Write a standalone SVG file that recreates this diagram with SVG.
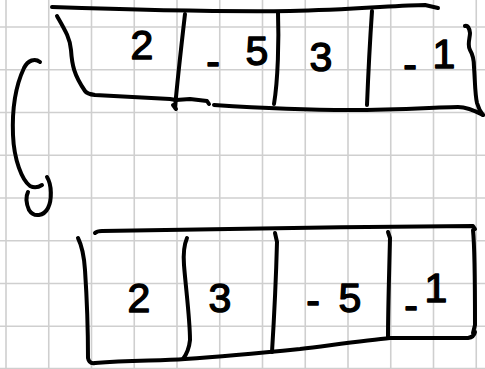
<svg xmlns="http://www.w3.org/2000/svg" width="485" height="369" viewBox="0 0 485 369">
<style>
.grid line{stroke:#cfcfcf;stroke-width:1.6}
.ink{fill:none;stroke:#000;stroke-width:4;stroke-linecap:round;stroke-linejoin:round}
.num{font-family:"Liberation Sans","DejaVu Sans",sans-serif;font-size:41px;fill:#000;stroke:#000;stroke-width:1.4;stroke-linejoin:round;text-anchor:middle}
</style>
<rect width="485" height="369" fill="#fff"/>
<g class="grid">
<line x1="6" y1="0" x2="6" y2="369"/><line x1="48.75" y1="0" x2="48.75" y2="369"/><line x1="91.5" y1="0" x2="91.5" y2="369"/><line x1="134.25" y1="0" x2="134.25" y2="369"/><line x1="177" y1="0" x2="177" y2="369"/><line x1="219.75" y1="0" x2="219.75" y2="369"/><line x1="262.5" y1="0" x2="262.5" y2="369"/><line x1="305.25" y1="0" x2="305.25" y2="369"/><line x1="348" y1="0" x2="348" y2="369"/><line x1="390.75" y1="0" x2="390.75" y2="369"/><line x1="433.5" y1="0" x2="433.5" y2="369"/><line x1="476.25" y1="0" x2="476.25" y2="369"/>
<line x1="0" y1="27" x2="485" y2="27"/><line x1="0" y1="69.75" x2="485" y2="69.75"/><line x1="0" y1="112.5" x2="485" y2="112.5"/><line x1="0" y1="155.25" x2="485" y2="155.25"/><line x1="0" y1="198" x2="485" y2="198"/><line x1="0" y1="240.75" x2="485" y2="240.75"/><line x1="0" y1="283.5" x2="485" y2="283.5"/><line x1="0" y1="326.25" x2="485" y2="326.25"/><line x1="0" y1="368.5" x2="485" y2="368.5"/>
</g>
<g id="array-before">
<path class="ink" d="M52,7 C110,9 200,12 290,11 C350,10 400,5 425,5 L438,8"/>
<path class="ink" d="M57,16 C65,30 70,38 71,50 C72,65 74,75 85,91 Q87,94 95,95 L170,99 L176,100"/>
<path class="ink" d="M185,14 C182,40 177,85 175,108 M173,105 L176,109"/>
<path class="ink" d="M176,100 L190,99 L207,101 L209,104"/>
<path class="ink" d="M214,105 C260,108 300,110 350,110 C400,110 440,107 458,107 Q468,107 483,115"/>
<path class="ink" d="M278,12 C279,40 278,80 274,104"/>
<path class="ink" d="M372,11 C370,40 368,80 367,105"/>
<path class="ink" d="M465,26 Q469,25 470,33 C470,38 467,45 470,50 C473,55 474,60 474,67 C475,80 475,95 477,103 Q479,110 483,115"/>
<text class="num" x="142" y="59">2</text>
<text class="num"><tspan x="213" y="75">-</tspan><tspan x="257" y="65">5</tspan></text>
<text class="num" x="321" y="71">3</text>
<text class="num"><tspan x="410" y="78">-</tspan><tspan x="444" y="68">1</tspan></text>
</g>
<g id="array-after">
<path class="ink" d="M95,233 Q97,231 102,231 C200,229 350,227 473,226 L475,229"/>
<path class="ink" d="M78,238 C82,246 84,255 85,270 C87,300 88,335 88,358 Q89,364 95,363"/>
<path class="ink" d="M95,363 C130,360 160,361 185,359 C230,356 270,352 300,349 C340,344 370,340 390,338 L468,338 Q474,337 475,332"/>
<path class="ink" d="M473,230 C475,250 475,300 475,325 L473,333"/>
<path class="ink" d="M187,238 C184,245 183,252 184,265 C186,290 190,320 190,340 C189,350 186,355 183,359"/>
<path class="ink" d="M275,233 L277,242 C276,280 274,320 272,352"/>
<path class="ink" d="M388,232 L390,238 C389,280 388,310 388,337"/>
<text class="num" x="139" y="312">2</text>
<text class="num" x="220" y="312">3</text>
<text class="num"><tspan x="313" y="314">-</tspan><tspan x="350" y="312">5</tspan></text>
<text class="num"><tspan x="411" y="319">-</tspan><tspan x="436" y="302">1</tspan></text>
</g>
<g id="connectors">
<path class="ink" d="M40,62 C35,58 28,60 24,68 C16,85 12,110 13,135 C14,160 22,180 30,186 C34,188 39,187 42,185"/>
<path class="ink" d="M47,177 C52,185 52,200 48,208 C44,216 34,218 29,210 C26,203 26,196 28,192"/>
</g>
</svg>
